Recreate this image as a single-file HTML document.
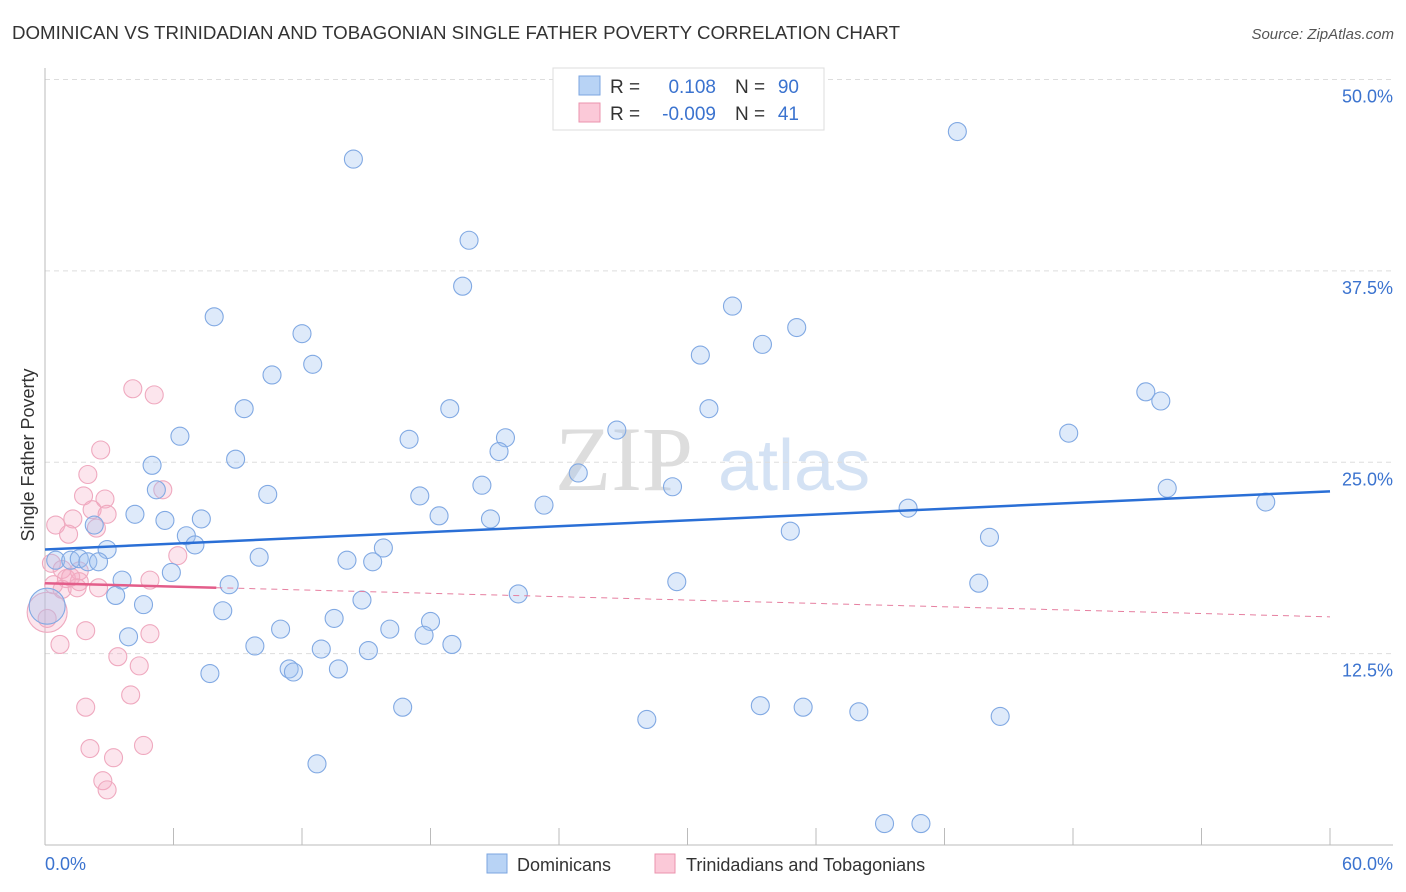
<!DOCTYPE html>
<html><head><meta charset="utf-8"><style>
body{margin:0;background:#fff;font-family:"Liberation Sans",sans-serif;}
svg{display:block}
</style></head><body>
<svg id="chart" width="1406" height="892" xmlns="http://www.w3.org/2000/svg">
<text x="12" y="39" font-size="18" fill="#333" textLength="888" lengthAdjust="spacingAndGlyphs">DOMINICAN VS TRINIDADIAN AND TOBAGONIAN SINGLE FATHER POVERTY CORRELATION CHART</text>
<text x="1394" y="39" font-size="15" fill="#555" font-style="italic" text-anchor="end">Source: ZipAtlas.com</text>
<g>
<text x="555" y="490" font-size="92" fill="#ddd" font-family="Liberation Serif, serif">ZIP</text>
<text x="718" y="490" font-size="72" fill="#d4e2f4">atlas</text>
</g>
<g id="grid"></g>
<g id="axes"></g>
<g id="pinkPts"></g>
<g id="bluePts"></g>
<g id="trends"></g>
<text transform="translate(34,455) rotate(-90)" font-size="18" fill="#333" text-anchor="middle">Single Father Poverty</text>
<g>
<rect x="553" y="68" width="271" height="62" fill="#fff" stroke="#ddd"/>
<rect x="579" y="76" width="21" height="19" fill="#b8d3f5" stroke="#7ba6e0"/>
<rect x="579" y="103" width="21" height="19" fill="#fbc9d8" stroke="#eb93ae"/>
<text x="610" y="93" font-size="19" fill="#333">R =</text>
<text x="716" y="93" font-size="19" fill="#3b73cf" text-anchor="end">0.108</text>
<text x="735" y="93" font-size="19" fill="#333">N =</text>
<text x="799" y="93" font-size="19" fill="#3b73cf" text-anchor="end">90</text>
<text x="610" y="120" font-size="19" fill="#333">R =</text>
<text x="716" y="120" font-size="19" fill="#3b73cf" text-anchor="end">-0.009</text>
<text x="735" y="120" font-size="19" fill="#333">N =</text>
<text x="799" y="120" font-size="19" fill="#3b73cf" text-anchor="end">41</text>
</g>
<g>
<rect x="487" y="854" width="20" height="19" fill="#b8d3f5" stroke="#7ba6e0"/>
<text x="517" y="871" font-size="18" fill="#333">Dominicans</text>
<rect x="655" y="854" width="20" height="19" fill="#fbc9d8" stroke="#eb93ae"/>
<text x="686" y="871" font-size="18" fill="#333">Trinidadians and Tobagonians</text>
</g>
</svg>
<script>
const blueX=[42.6,14.4,19.8,19.5,7.9,32.1,12.0,35.1,33.5,30.6,12.5,10.6,51.4,52.1,9.3,18.9,31.0,6.3,26.7,47.8,17.0,21.5,21.2,8.9,5.0,24.9,20.4,29.3,5.2,52.4,10.4,17.5,57.0,23.3,40.3,4.2,18.4,5.6,7.3,20.8,2.3,34.8,6.6,44.1,7.0,2.9,15.8,0.5,1.2,1.6,2.0,2.5,10.0,14.1,15.3,5.9,3.6,8.6,29.5,43.6,3.3,22.1,14.8,4.6,8.3,13.5,18.0,16.1,11.0,3.9,17.7,9.8,19.0,12.9,15.1,11.4,11.6,13.7,7.7,16.7,33.4,35.4,38.0,28.1,44.6,12.7,39.2,40.9,0.1];
const blueY=[46.6,44.8,39.5,36.5,34.5,35.2,33.4,33.8,32.7,32.0,31.4,30.7,29.6,29.0,28.5,28.5,28.5,26.7,27.1,26.9,26.5,26.6,25.7,25.2,24.8,24.3,23.5,23.4,23.2,23.3,22.9,22.8,22.4,22.2,22.0,21.6,21.5,21.2,21.3,21.3,20.9,20.5,20.2,20.1,19.6,19.3,19.4,18.6,18.6,18.7,18.5,18.5,18.8,18.6,18.5,17.8,17.3,17.0,17.2,17.1,16.3,16.4,16.0,15.7,15.3,14.8,14.6,14.1,14.1,13.6,13.7,13.0,13.1,12.8,12.7,11.5,11.3,11.5,11.2,9.0,9.1,9.0,8.7,8.2,8.4,5.3,1.4,1.4,15.6];
const pinkX=[4.1,5.1,2.6,2.0,1.8,2.8,2.2,2.9,0.5,1.3,1.1,2.4,5.5,6.2,4.9,0.3,0.8,1.6,1.0,1.6,0.8,1.5,2.5,0.1,0.1,1.9,4.9,0.7,3.4,4.4,4.0,1.9,2.1,3.2,4.6,2.7,2.9,0.4,1.2];
const pinkY=[29.8,29.4,25.8,24.2,22.8,22.6,21.9,21.6,20.9,21.3,20.3,20.7,23.2,18.9,17.3,18.4,18.0,17.9,17.4,17.2,16.7,16.8,16.8,15.2,14.8,14.0,13.8,13.1,12.3,11.7,9.8,9.0,6.3,5.7,6.5,4.2,3.6,17.0,17.5];
const xTicks=[0,6,12,18,24,30,36,42,48,54,60];
const yTicks=[12.5,25,37.5,50];
const yTickLabels=["12.5%","25.0%","37.5%","50.0%"];
const xEndLabels=["0.0%","60.0%"];
const blueTrend=[19.3,23.1];
const pinkTrend=[17.1,14.9];
const pinkSolidEnd=8;
const NS="http://www.w3.org/2000/svg";
const X=v=>45+v*(1285/60), Y=v=>845-v*15.31;
function mk(p,t,a){const e=document.createElementNS(NS,t);for(const k in a)e.setAttribute(k,a[k]);p.appendChild(e);return e;}
const grid=document.getElementById('grid'),axes=document.getElementById('axes');
yTicks.forEach((t,i)=>{
 const l=mk(grid,'line',{x1:45,x2:1393,y1:Y(t),y2:Y(t),stroke:'#ddd','stroke-dasharray':'5,4'});
 
 
 const tx=mk(grid,'text',{x:1393,y:Y(t)+23,'font-size':18,fill:'#3b73cf','text-anchor':'end'});
 tx.textContent=yTickLabels[i];
 
 
});
mk(axes,'line',{x1:45,x2:45,y1:68,y2:845,stroke:'#bbb'});
mk(axes,'line',{x1:45,x2:1393,y1:845,y2:845,stroke:'#bbb'});
xTicks.forEach(t=>{const l=mk(axes,'line',{x1:X(t),x2:X(t),y1:828,y2:845,stroke:'#bbb'});
 
 });
const l0=mk(axes,'text',{x:45,y:870,'font-size':18,fill:'#3b73cf'});l0.textContent=xEndLabels[0];


const l1=mk(axes,'text',{x:1393,y:870,'font-size':18,fill:'#3b73cf','text-anchor':'end'});l1.textContent=xEndLabels[1];


const pp=document.getElementById('pinkPts');
pinkX.forEach((x,i)=>{const r=(i===23)?20:9;const c=mk(pp,'circle',{cx:X(x),cy:Y(pinkY[i]),r:r,fill:'rgba(246,170,195,0.3)',stroke:'#efa9bf','stroke-width':1.1});
 
 });
const bp=document.getElementById('bluePts');
blueX.forEach((x,i)=>{const r=(i===blueX.length-1)?18:9;const c=mk(bp,'circle',{cx:X(x),cy:Y(blueY[i]),r:r,fill:'rgba(160,196,240,0.35)',stroke:'#81a9e3','stroke-width':1.1});
 
 });
const tr=document.getElementById('trends');
const bt=mk(tr,'line',{x1:X(0),y1:Y(blueTrend[0]),x2:X(60),y2:Y(blueTrend[1]),stroke:'#2a6fd6','stroke-width':2.5});


const pv=x=>pinkTrend[0]+(pinkTrend[1]-pinkTrend[0])*x/60;
const pd=mk(tr,'line',{x1:X(pinkSolidEnd),y1:Y(pv(pinkSolidEnd)),x2:X(60),y2:Y(pinkTrend[1]),stroke:'#e67fa0','stroke-width':1,'stroke-dasharray':'6,5'});


const ps=mk(tr,'line',{x1:X(0),y1:Y(pinkTrend[0]),x2:X(pinkSolidEnd),y2:Y(pv(pinkSolidEnd)),stroke:'#e35d8a','stroke-width':2.5});


</script>
</body></html>
